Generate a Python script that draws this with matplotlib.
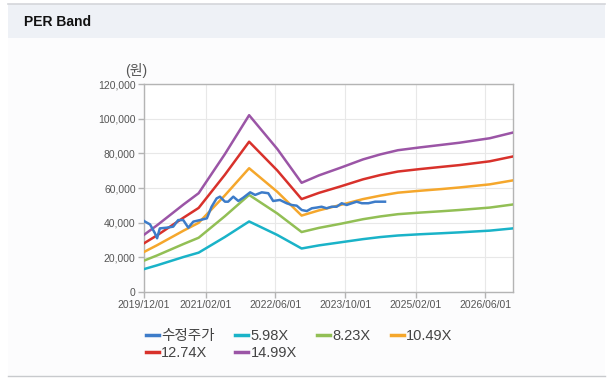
import matplotlib
matplotlib.use("Agg")
import matplotlib.pyplot as plt
import matplotlib.dates as mdates
from matplotlib.patches import Rectangle
from matplotlib.lines import Line2D
import pandas as pd

plt.rcParams['font.family'] = ['Liberation Sans', 'Noto Sans CJK KR', 'DejaVu Sans']

# band key dates (monthly EPS x PER)
band_dates = ['2019-12-01', '2020-03-01', '2020-06-01', '2020-09-01', '2020-12-15',
              '2021-06-15', '2021-12-01', '2022-06-15', '2022-12-01', '2023-04-01',
              '2023-09-01', '2024-02-01', '2024-06-01', '2024-10-01', '2025-03-01',
              '2025-08-01', '2025-12-01', '2026-07-01', '2026-12-10']
per_598 = [13200, 15400, 17800, 20200, 22700, 31700, 40700, 32900, 25100, 26900,
           28700, 30500, 31700, 32600, 33300, 33900, 34400, 35400, 36700]
per_823 = [18100, 21100, 24400, 27700, 31300, 43700, 56000, 45300, 34600, 37000,
           39400, 42000, 43600, 44900, 45800, 46600, 47300, 48700, 50500]
per_1049 = [23100, 27000, 31200, 35400, 39900, 55700, 71400, 57800, 44100, 47100,
            50300, 53600, 55600, 57300, 58400, 59400, 60300, 62100, 64400]
per_1274 = [28100, 32700, 37800, 42900, 48500, 67600, 86700, 70100, 53600, 57200,
            61000, 65000, 67500, 69500, 70900, 72200, 73200, 75400, 78200]
per_1499 = [33000, 38500, 44500, 50500, 57000, 79500, 102000, 82500, 63000, 67300,
            71800, 76500, 79400, 81800, 83400, 84900, 86100, 88700, 92000]

# adjusted share price
price_dates = ['2019-12-01', '2019-12-08', '2020-01-12', '2020-02-15', '2020-03-01',
               '2020-03-20', '2020-05-06', '2020-06-21', '2020-07-26', '2020-08-30',
               '2020-10-04', '2020-11-08', '2020-12-25', '2021-02-10', '2021-03-15',
               '2021-04-19', '2021-05-12', '2021-06-16', '2021-07-08', '2021-08-13',
               '2021-09-17', '2021-10-21', '2021-12-08', '2022-01-12', '2022-02-27',
               '2022-04-13', '2022-05-17', '2022-07-03', '2022-08-19', '2022-09-23',
               '2022-10-28', '2022-12-02', '2023-01-06', '2023-02-10', '2023-03-15',
               '2023-04-19', '2023-05-24', '2023-06-28', '2023-08-02', '2023-09-06',
               '2023-10-10', '2023-11-15', '2023-12-19', '2024-01-24', '2024-03-09',
               '2024-04-25', '2024-07-03']
price = [41000, 40600, 39000, 33900, 31000, 36700, 37100, 37700, 41500, 41500,
         37100, 40600, 41500, 42500, 49200, 54000, 55000, 52100, 52100, 55000,
         52500, 54400, 57500, 56000, 57500, 57000, 52500, 53100, 51200, 50200,
         49800, 47300, 46700, 48300, 48700, 49200, 48300, 49200, 49200, 51200,
         50200, 51200, 52100, 51200, 51200, 52100, 52100]

series_names = ['수정주가', '5.98X', '8.23X', '10.49X', '12.74X', '14.99X']
colors = ['#3d7cc9', '#1ab3c8', '#92bf55', '#f5a72c', '#d8312b', '#9b55a6']
tick_dates = ['2019-12-01', '2021-02-01', '2022-06-01', '2023-10-01', '2025-02-01', '2026-06-01']
y_ticks = [0, 20000, 40000, 60000, 80000, 100000, 120000]

W, H = 615, 381
fig = plt.figure(figsize=(W / 100, H / 100), dpi=100)
fig.patch.set_facecolor('white')

# page frame: header strip + body
fig.patches.append(Rectangle((8 / W, 1 - 376 / H), 597 / W, 338 / H, transform=fig.transFigure,
                             facecolor='#fcfcfd', edgecolor='none', zorder=-2))
fig.patches.append(Rectangle((8 / W, 1 - 38 / H), 597 / W, 34 / H, transform=fig.transFigure,
                             facecolor='#eef1f6', edgecolor='none', zorder=-2))
fig.lines.append(Line2D([8 / W, 605 / W], [1 - 3.5 / H, 1 - 3.5 / H], transform=fig.transFigure,
                        color='#d4d6da', lw=1.2, zorder=-1))
fig.lines.append(Line2D([8 / W, 605 / W], [1 - 376 / H, 1 - 376 / H], transform=fig.transFigure,
                        color='#c8cacd', lw=1.0, zorder=-1))
fig.text(24 / W, 1 - 22 / H, 'PER Band', fontsize=10, fontweight='bold', color='#111',
         va='center', ha='left')

ax = fig.add_axes([144 / W, 1 - 292 / H, (513 - 144) / W, (292 - 84) / H])
ax.set_zorder(2)
ax.set_facecolor('white')

bd = pd.to_datetime(band_dates)
pdts = pd.to_datetime(price_dates)
ax.plot(pdts, price, color=colors[0], lw=1.8, zorder=5, label=series_names[0])
for vals, c, name in zip([per_598, per_823, per_1049, per_1274, per_1499], colors[1:], series_names[1:]):
    ax.plot(bd, vals, color=c, lw=1.8, zorder=4, label=name)

ax.set_xlim(pd.Timestamp('2019-12-01'), pd.Timestamp('2026-12-10'))
ax.set_ylim(0, 120000)
ax.set_yticks(y_ticks)
ax.set_yticklabels([f'{v:,}' for v in y_ticks])
ax.set_xticks(pd.to_datetime(tick_dates))
ax.xaxis.set_major_formatter(mdates.DateFormatter('%Y/%m/%d'))
ax.grid(True, color='#e8e8e8', lw=0.8)
ax.set_axisbelow(True)
for s in ax.spines.values():
    s.set_color('#b4b4b4')
    s.set_linewidth(1.0)
ax.tick_params(axis='both', colors='#b4b4b4', labelcolor='#555555', labelsize=7.5,
               length=4, width=1.0, pad=2)

fig.text(136 / W, 1 - 71 / H, '(원)', fontsize=10, color='#555555', ha='center', va='center')

handles, labels = ax.get_legend_handles_labels()
# legend fills column by column; this order gives rows of four
order = [0, 4, 1, 5, 2, 3]
leg = fig.legend([handles[i] for i in order], [labels[i] for i in order],
                 loc='upper left', bbox_to_anchor=(140 / W, 1 - 323 / H), ncol=4,
                 frameon=False, fontsize=10.5, handlelength=0.9, handletextpad=0.15,
                 columnspacing=1.4, labelspacing=0.2, borderaxespad=0)
leg.set_zorder(3)
for line in leg.get_lines():
    line.set_linewidth(2.5)
for t in leg.get_texts():
    t.set_color('#444444')

fig.savefig('out.png', dpi=100)
